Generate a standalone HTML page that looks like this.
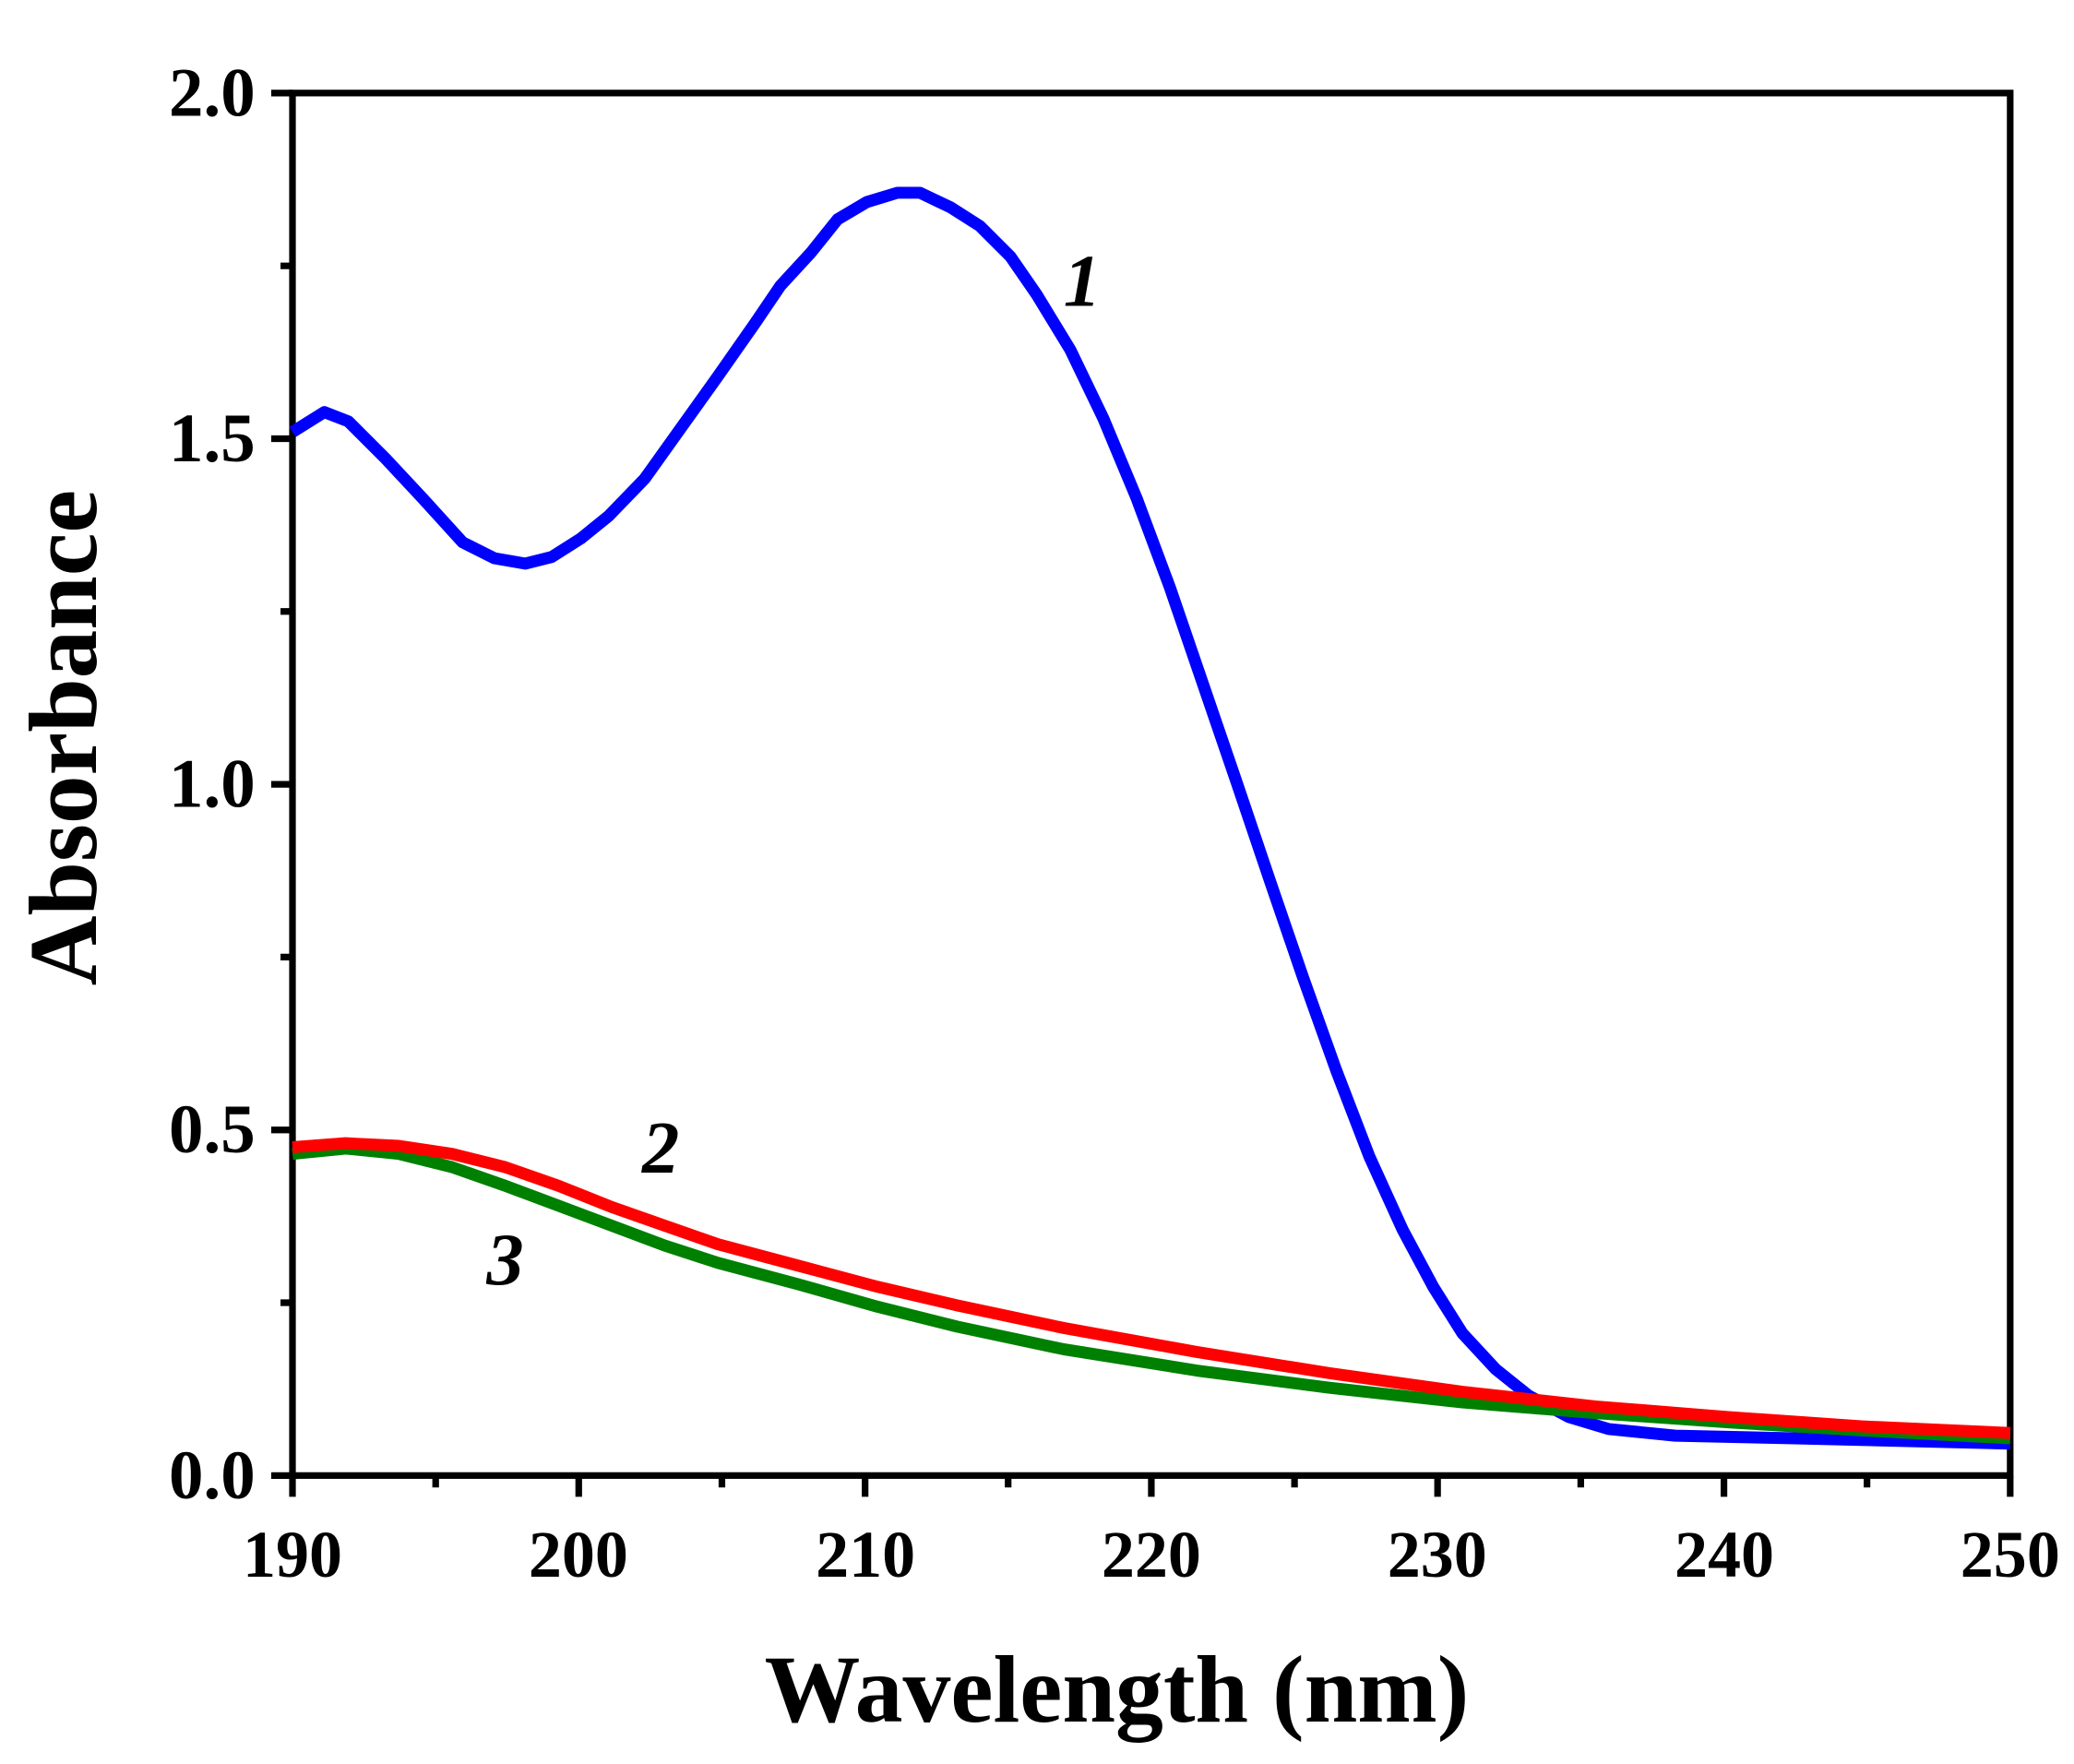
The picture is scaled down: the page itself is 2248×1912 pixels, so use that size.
<!DOCTYPE html>
<html><head><style>html,body{margin:0;padding:0;background:#fff}svg{display:block}</style></head>
<body>
<svg width="2248" height="1912" viewBox="0 0 1560 1327" preserveAspectRatio="none" xmlns="http://www.w3.org/2000/svg">
<g font-family="Liberation Serif, serif" font-weight="bold" fill="#000">
<g stroke="#000" stroke-width="5" fill="none">
<rect x="220" y="70" width="1292" height="1040"/>
<path d="M220 1110v16M435.3 1110v16M650.7 1110v16M866 1110v16M1081.3 1110v16M1296.7 1110v16M1512 1110v16"/>
<path d="M327.7 1110v9M543 1110v9M758.3 1110v9M973.7 1110v9M1189 1110v9M1404.3 1110v9"/>
<path d="M220 1110h-16M220 850h-16M220 590h-16M220 330h-16M220 70h-16"/>
<path d="M220 980h-9M220 720h-9M220 460h-9M220 200h-9"/>
</g>
<g font-size="52" text-anchor="end">
<text x="192" y="1127">0.0</text><text x="192" y="867">0.5</text><text x="192" y="607">1.0</text><text x="192" y="347">1.5</text><text x="192" y="87">2.0</text>
</g>
<g font-size="50" text-anchor="middle">
<text x="220" y="1186">190</text><text x="435" y="1186">200</text><text x="651" y="1186">210</text><text x="866" y="1186">220</text><text x="1081" y="1186">230</text><text x="1297" y="1186">240</text><text x="1512" y="1186">250</text>
</g>
<text x="840" y="1295" font-size="72" text-anchor="middle">Wavelength (nm)</text>
<text transform="translate(72,555) rotate(-90)" font-size="73" text-anchor="middle">Absorbance</text>
<g font-style="italic" font-size="56">
<text x="800" y="230">1</text><text x="483" y="882">2</text><text x="366" y="966">3</text>
</g>
</g>
<g fill="none" stroke-width="9" stroke-linejoin="round">
<polyline stroke="#0000ff" points="220,325 244,310 262,317 290,345 318,375 348,408 372,420 395,424 415,419 437,405 458,388 485,360 510,325 540,283 568,243 587,215 610,190 630,165 652,152 675,145 692,145 715,156 737,170 760,193 780,222 805,263 830,315 855,375 880,442 905,515 930,588 955,662 980,735 1005,805 1030,870 1055,925 1078,968 1100,1003 1125,1030 1150,1050 1180,1066 1210,1075 1260,1080 1350,1082 1512,1086"/>
<polyline stroke="#008000" points="220,868 260,864 300,868 340,878 380,892 420,907 460,922 500,937 540,950 600,966 660,983 720,998 800,1015 900,1031 1000,1044 1100,1055 1200,1063 1300,1070 1400,1076 1512,1082"/>
<polyline stroke="#ff0000" points="220,863 260,860 300,862 340,868 380,878 420,892 460,908 500,922 540,936 600,952 660,968 720,982 800,999 900,1017 1000,1033 1100,1047 1200,1058 1300,1066 1400,1073 1512,1078"/>
</g>
</svg>
</body></html>
